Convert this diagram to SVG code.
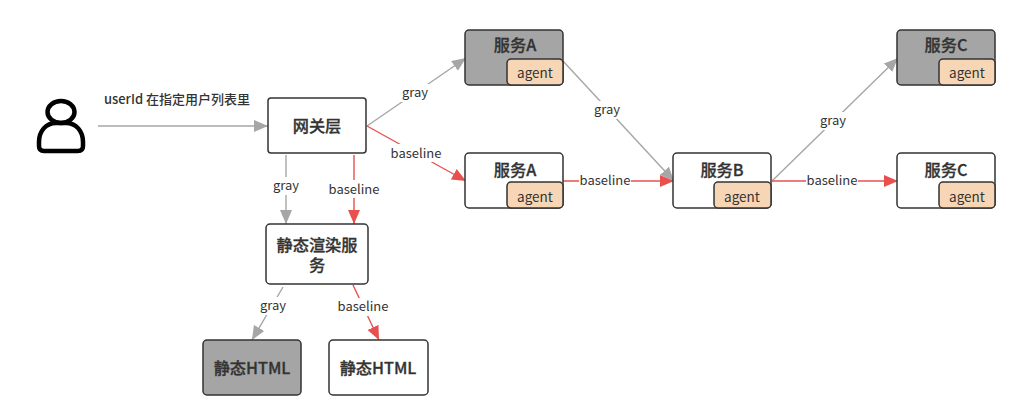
<svg xmlns="http://www.w3.org/2000/svg" width="1022" height="420" viewBox="0 0 1022 420">
<style>
text{font-family:"Noto Sans CJK SC","Noto Sans",sans-serif;fill:#333;text-anchor:middle}
.box{fill:#fff;stroke:#333;stroke-width:1.5}
.dark{fill:#a5a5a5}
.agent{fill:#f7d6b5;stroke:#333;stroke-width:1.5}
.t{font-size:16.2px;font-weight:500;stroke:#333;stroke-width:.3}
.a{font-size:13.5px}
.l{font-size:13px}
.g{fill:none;stroke:#a6a6a6;stroke-width:1.4}
.r{fill:none;stroke:#e85050;stroke-width:1.4}
.bg{fill:#fff}
.u{font-size:13px;font-weight:500}
</style>
<defs>
<marker id="ag" markerUnits="userSpaceOnUse" markerWidth="15" markerHeight="13" refX="14" refY="6" orient="auto"><path d="M0 0L14 6L0 12Z" fill="#a6a6a6"/></marker>
<marker id="ar" markerUnits="userSpaceOnUse" markerWidth="15" markerHeight="13" refX="14" refY="6" orient="auto"><path d="M0 0L14 6L0 12Z" fill="#e85050"/></marker>
</defs>
<g id="connectors">
<path class="g" marker-end="url(#ag)" d="M98 126H268"/>
<path class="g" marker-end="url(#ag)" d="M367 126L466 58"/>
<path class="r" marker-end="url(#ar)" d="M367 126L466 181"/>
<path class="g" marker-end="url(#ag)" d="M286 155V224"/>
<path class="r" marker-end="url(#ar)" d="M354 155V224"/>
<path class="g" marker-end="url(#ag)" d="M283 287L252 340"/>
<path class="r" marker-end="url(#ar)" d="M353 285L379 340"/>
<path class="g" marker-end="url(#ag)" d="M563 61L674 181"/>
<path class="r" marker-end="url(#ar)" d="M563 181H674"/>
<path class="g" marker-end="url(#ag)" d="M772 181L898 58"/>
<path class="r" marker-end="url(#ar)" d="M772 181H898"/>
<rect class="bg" x="400" y="84" width="30" height="18"/><text class="l" x="415" y="97">gray</text>
<rect class="bg" x="390" y="144" width="52" height="18"/><text class="l" x="416" y="158">baseline</text>
<rect class="bg" x="271" y="177" width="30" height="18"/><text class="l" x="286" y="190">gray</text>
<rect class="bg" x="328" y="180" width="52" height="18"/><text class="l" x="354" y="194">baseline</text>
<rect class="bg" x="258" y="297" width="30" height="18"/><text class="l" x="273" y="310">gray</text>
<rect class="bg" x="337" y="298" width="52" height="18"/><text class="l" x="363" y="311">baseline</text>
<rect class="bg" x="592" y="101" width="30" height="18"/><text class="l" x="607" y="114">gray</text>
<rect class="bg" x="579" y="172" width="52" height="18"/><text class="l" x="605" y="185">baseline</text>
<rect class="bg" x="818" y="112" width="30" height="18"/><text class="l" x="833" y="125">gray</text>
<rect class="bg" x="806" y="172" width="52" height="18"/><text class="l" x="832" y="185">baseline</text>
<text class="u" x="177" y="104">userId 在指定用户列表里</text>
</g>
<g id="user" fill="none" stroke="#000" stroke-width="4.5">
<ellipse cx="61" cy="112" rx="13.5" ry="11"/>
<path d="M56 123H66C76 123 83 131 83 142V146Q83 151 78 151H44Q39 151 39 146V142C39 131 46 123 56 123Z"/>
</g>
<g id="gateway"><rect class="box" x="268" y="98" width="98" height="55" rx="3"/><text class="t" x="317" y="132">网关层</text></g>
<g id="svcA-gray"><rect class="box dark" x="465" y="30" width="98" height="55" rx="4"/><rect class="agent" x="507" y="59" width="56" height="26" rx="4"/><text class="t" x="515" y="51">服务A</text><text class="a" x="535" y="77.5">agent</text></g>
<g id="svcA"><rect class="box" x="465" y="153" width="98" height="55" rx="4"/><rect class="agent" x="507" y="182" width="56" height="26" rx="4"/><text class="t" x="515" y="176">服务A</text><text class="a" x="535" y="201.5">agent</text></g>
<g id="svcB"><rect class="box" x="673" y="153" width="98" height="55" rx="4"/><rect class="agent" x="714" y="182" width="57" height="26" rx="4"/><text class="t" x="722" y="176">服务B</text><text class="a" x="742" y="201.5">agent</text></g>
<g id="svcC-gray"><rect class="box dark" x="897" y="30" width="98" height="55" rx="4"/><rect class="agent" x="939" y="59" width="56" height="26" rx="4"/><text class="t" x="946" y="51">服务C</text><text class="a" x="967" y="77.5">agent</text></g>
<g id="svcC"><rect class="box" x="897" y="153" width="98" height="55" rx="4"/><rect class="agent" x="939" y="182" width="56" height="26" rx="4"/><text class="t" x="946" y="176">服务C</text><text class="a" x="967" y="201.5">agent</text></g>
<g id="render"><rect class="box" x="266" y="224" width="102" height="60" rx="4"/><text class="t"><tspan x="317" y="251">静态渲染服</tspan><tspan x="317" y="271">务</tspan></text></g>
<g id="html-gray"><rect class="box dark" x="203" y="340" width="98" height="55" rx="4"/><text class="t" x="252" y="374">静态HTML</text></g>
<g id="html"><rect class="box" x="329" y="340" width="99" height="55" rx="4"/><text class="t" x="378" y="374">静态HTML</text></g>
</svg>
